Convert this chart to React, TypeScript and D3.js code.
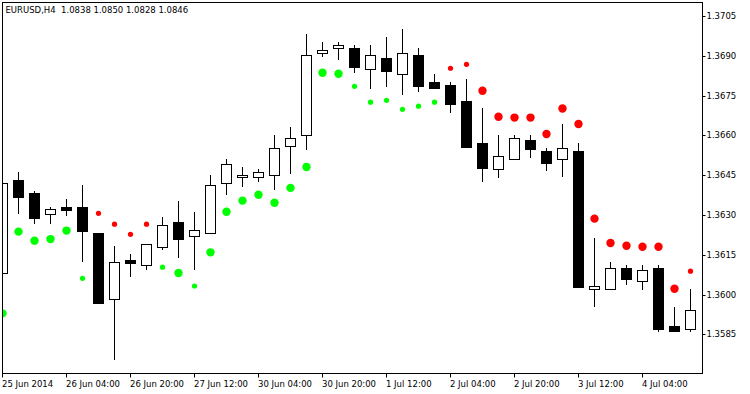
import React, { useRef, useEffect } from "react";
import * as d3 from "d3";

// EURUSD H4 candles (oldest first)
const opens = [
  1.3608, 1.36432, 1.36383, 1.36302, 1.36329, 1.36329, 1.36231, 1.35982, 1.36129, 1.3611,
  1.3618, 1.36272, 1.36219, 1.36231, 1.36419, 1.36442, 1.36442, 1.36449, 1.36559, 1.366,
  1.36909, 1.36928, 1.36928, 1.36849, 1.36891, 1.3683, 1.36902, 1.368, 1.36789, 1.3673,
  1.36571, 1.36472, 1.3651, 1.36583, 1.3654, 1.3651, 1.36541, 1.3602, 1.3602, 1.36099,
  1.3605, 1.36099, 1.35881, 1.35871,
];
const highs = [
  1.36419, 1.36462, 1.3639, 1.36329, 1.3636, 1.36413, 1.36232, 1.36183, 1.36153, 1.36189,
  1.36292, 1.36353, 1.36311, 1.36451, 1.36511, 1.36481, 1.36473, 1.36601, 1.36632, 1.36982,
  1.36952, 1.36952, 1.36941, 1.36941, 1.36971, 1.37001, 1.36928, 1.3683, 1.368, 1.36812,
  1.36703, 1.36601, 1.36601, 1.36601, 1.36552, 1.36643, 1.36571, 1.36214, 1.36121, 1.36111,
  1.36111, 1.36111, 1.35953, 1.3602,
];
const lows = [
  1.3608, 1.36308, 1.36271, 1.36271, 1.36301, 1.36128, 1.35968, 1.35758, 1.36071, 1.36097,
  1.3617, 1.3614, 1.36097, 1.36231, 1.3638, 1.3641, 1.36429, 1.36399, 1.36459, 1.3655,
  1.369, 1.36889, 1.3684, 1.3678, 1.36787, 1.36757, 1.36768, 1.3678, 1.36689, 1.36557,
  1.36428, 1.36442, 1.3651, 1.3652, 1.36471, 1.36448, 1.3603, 1.35958, 1.3602, 1.36041,
  1.3602, 1.35861, 1.35861, 1.35861,
];
const closes = [
  1.36419, 1.36369, 1.3629, 1.36321, 1.3632, 1.36241, 1.35969, 1.36121, 1.3612, 1.36189,
  1.36261, 1.3621, 1.36242, 1.36412, 1.36491, 1.36449, 1.36461, 1.36551, 1.36589, 1.36902,
  1.36921, 1.3694, 1.36859, 1.36902, 1.36842, 1.36909, 1.36787, 1.3678, 1.36719, 1.36557,
  1.36478, 1.36522, 1.36589, 1.3655, 1.36497, 1.36551, 1.3603, 1.36032, 1.36099, 1.3606,
  1.36091, 1.35871, 1.35861, 1.35941,
];

// indicator dots: value, trend (up = green, down = red), big or small
const dotValues = [
  1.35929, 1.36237, 1.36203, 1.36209, 1.36241, 1.36061, 1.36306, 1.36265, 1.36227, 1.36265,
  1.36103, 1.36081, 1.36032, 1.36159, 1.36312, 1.36354, 1.36376, 1.36346, 1.36402, 1.36481,
  1.36836, 1.36832, 1.36785, 1.36725, 1.36732, 1.36698, 1.3671, 1.36725, 1.36853, 1.36868,
  1.36768, 1.3667, 1.36667, 1.36667, 1.36605, 1.36701, 1.36643, 1.36286, 1.36194, 1.36184,
  1.3618, 1.3618, 1.36022, 1.36088,
];
const dotUp = [
  1, 1, 1, 1, 1, 1, 0, 0, 0, 0,
  1, 1, 1, 1, 1, 1, 1, 1, 1, 1,
  1, 1, 1, 1, 1, 1, 1, 1, 0, 0,
  0, 0, 0, 0, 0, 0, 0, 0, 0, 0,
  0, 0, 0, 0,
];
const dotBig = [
  1, 1, 1, 1, 1, 0, 0, 0, 0, 0,
  0, 1, 0, 1, 1, 1, 1, 1, 1, 1,
  1, 1, 0, 0, 0, 0, 0, 0, 0, 0,
  1, 1, 1, 1, 1, 1, 1, 1, 1, 1,
  1, 1, 1, 0,
];

const timeLabels = [
  "25 Jun 2014", "26 Jun 04:00", "26 Jun 20:00", "27 Jun 12:00", "30 Jun 04:00",
  "30 Jun 20:00", "1 Jul 12:00", "2 Jul 04:00", "2 Jul 20:00", "3 Jul 12:00", "4 Jul 04:00",
];
const priceTicks = [1.3585, 1.36, 1.3615, 1.363, 1.3645, 1.366, 1.3675, 1.369, 1.3705];
const title = "EURUSD,H4  1.0838 1.0850 1.0828 1.0846";

const FONT = "'DejaVu Sans', Tahoma, sans-serif";

function drawChart(el: SVGSVGElement) {
  const frame = { left: 2, top: 2, right: 702, bottom: 373 };
  const svg = d3.select(el);
  svg.selectAll("*").remove();

  svg.append("rect").attr("width", 750).attr("height", 394).attr("fill", "#fff");

  const x = d3.scaleLinear().domain([0, opens.length - 1]).range([2.5, 2.5 + 16 * (opens.length - 1)]);
  const y = d3.scaleLinear().domain([1.3585, 1.3705]).range([334.3, 16]);
  const px = (i: number) => Math.floor(x(i)) + 0.5;
  const py = (v: number) => Math.round(y(v)) + 0.5;

  svg
    .append("clipPath")
    .attr("id", "plot")
    .append("rect")
    .attr("x", frame.left + 1)
    .attr("y", frame.top + 1)
    .attr("width", frame.right - frame.left - 1)
    .attr("height", frame.bottom - frame.top - 1);

  const plot = svg.append("g").attr("clip-path", "url(#plot)");

  // candles
  const idx = d3.range(opens.length);
  const candle = plot.selectAll("g.c").data(idx).enter().append("g").attr("class", "c");
  candle
    .append("line")
    .attr("x1", (i) => px(i))
    .attr("x2", (i) => px(i))
    .attr("y1", (i) => py(highs[i]) - 0.5)
    .attr("y2", (i) => py(lows[i]) + 0.5)
    .attr("stroke", "#000")
    .attr("stroke-width", 1);
  candle
    .append("rect")
    .attr("x", (i) => px(i) - 5)
    .attr("y", (i) => py(Math.max(opens[i], closes[i])))
    .attr("width", 10)
    .attr("height", (i) => Math.max(1, py(Math.min(opens[i], closes[i])) - py(Math.max(opens[i], closes[i]))))
    .attr("fill", (i) => (closes[i] >= opens[i] ? "#fff" : "#000"))
    .attr("stroke", "#000")
    .attr("stroke-width", 1);

  // dots
  plot
    .selectAll("circle.d")
    .data(idx)
    .enter()
    .append("circle")
    .attr("class", "d")
    .attr("cx", (i) => px(i))
    .attr("cy", (i) => y(dotValues[i]))
    .attr("r", (i) => (dotBig[i] ? 4.2 : 2.6))
    .attr("fill", (i) => (dotUp[i] ? "#00ff00" : "#ff0000"));

  // frame
  svg
    .append("rect")
    .attr("x", frame.left + 0.5)
    .attr("y", frame.top + 0.5)
    .attr("width", frame.right - frame.left)
    .attr("height", frame.bottom - frame.top)
    .attr("fill", "none")
    .attr("stroke", "#000");

  // right price axis
  const yAxis = svg
    .append("g")
    .attr("transform", `translate(${frame.right + 0.5},0)`)
    .call(
      d3
        .axisRight(y)
        .tickValues(priceTicks)
        .tickSize(3)
        .tickPadding(1)
        .tickFormat((d) => (d as number).toFixed(4))
    );
  yAxis.select(".domain").remove();
  yAxis.selectAll(".tick").attr("transform", (d: any) => `translate(0,${py(d)})`);
  yAxis.selectAll(".tick line").attr("stroke", "#000");
  yAxis
    .selectAll(".tick text")
    .attr("fill", "#000")
    .attr("dy", "0.35em")
    .style("font-family", FONT)
    .style("font-size", "8.5px");

  // bottom time axis
  const tickIdx = timeLabels.map((_, j) => j * 4);
  const xAxis = svg
    .append("g")
    .attr("transform", `translate(0,${frame.bottom + 0.5})`)
    .call(
      d3
        .axisBottom(x)
        .tickValues(tickIdx)
        .tickSize(4)
        .tickFormat((d) => timeLabels[(d as number) / 4])
    );
  xAxis.select(".domain").remove();
  xAxis.selectAll(".tick").attr("transform", (d: any) => `translate(${px(d)},0)`);
  xAxis.selectAll(".tick line").attr("stroke", "#000");
  xAxis
    .selectAll(".tick text")
    .attr("fill", "#000")
    .attr("text-anchor", "start")
    .attr("x", -0.5)
    .attr("y", 13)
    .attr("dy", 0)
    .style("font-family", FONT)
    .style("font-size", "8.5px");

  // title
  svg
    .append("text")
    .attr("x", 5.5)
    .attr("y", 12.5)
    .style("font-family", FONT)
    .style("font-size", "8.5px")
    .style("white-space", "pre")
    .attr("fill", "#000")
    .text(title);
}

const App: React.FunctionComponent = function () {
  const ref = useRef<SVGSVGElement>(null);

  useEffect(() => {
    if (ref.current == null) {
      return;
    }
    drawChart(ref.current);
  }, []);

  return (
    <svg
      ref={ref}
      width={750}
      height={394}
      style={{ position: "absolute", left: 0, top: 0, display: "block" }}
    />
  );
};

export default App;
